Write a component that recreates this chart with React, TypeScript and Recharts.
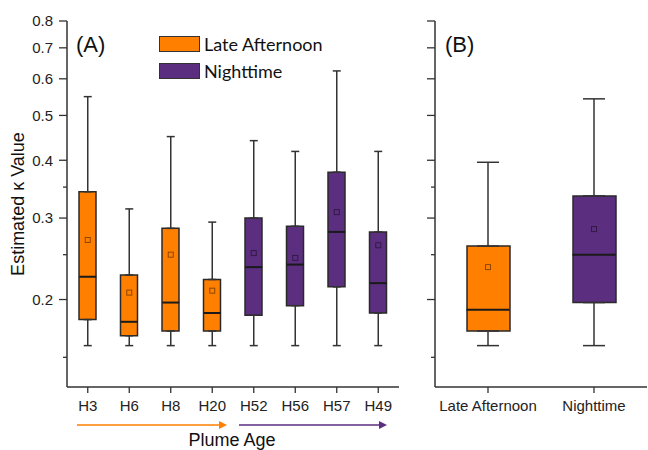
import React from 'react';
import {
  ComposedChart, Bar, Scatter, ErrorBar, XAxis, YAxis, Cell, Legend
} from 'recharts';

// plume ages, panel (A)
const plumes = ['H3', 'H6', 'H8', 'H20', 'H52', 'H56', 'H57', 'H49'];
const plumePeriod = [0, 0, 0, 0, 1, 1, 1, 1];
const plumeWhiskerLow = [0.159, 0.159, 0.159, 0.159, 0.159, 0.159, 0.159, 0.159];
const plumeQ1 = [0.181, 0.167, 0.171, 0.171, 0.185, 0.194, 0.213, 0.187];
const plumeMedian = [0.224, 0.179, 0.197, 0.187, 0.235, 0.238, 0.28, 0.217];
const plumeQ3 = [0.342, 0.226, 0.285, 0.221, 0.3, 0.288, 0.377, 0.28];
const plumeWhiskerHigh = [0.549, 0.314, 0.45, 0.294, 0.441, 0.418, 0.624, 0.418];
const plumeMean = [0.269, 0.207, 0.25, 0.209, 0.252, 0.246, 0.309, 0.262];

// time of day, panel (B)
const periods = ['Late Afternoon', 'Nighttime'];
const periodColors = ['#FF7F00', '#5B2E7F'];
const periodWhiskerLow = [0.159, 0.159];
const periodQ1 = [0.171, 0.197];
const periodMedian = [0.19, 0.25];
const periodQ3 = [0.261, 0.335];
const periodWhiskerHigh = [0.396, 0.543];
const periodMean = [0.235, 0.284];

const yTicks = [0.15, 0.2, 0.25, 0.3, 0.35, 0.4, 0.45, 0.5, 0.55, 0.6, 0.65, 0.7, 0.75, 0.8];
const yMajorTicks = [0.2, 0.3, 0.4, 0.5, 0.6, 0.7, 0.8];
const yDomain = [0.1294, 0.8];

const FONT = "'Liberation Sans', Arial, sans-serif";
const AXIS = '#333';

const buildRows = (
  names: string[], lo: number[], q1: number[], med: number[],
  q3: number[], hi: number[], mean: number[], period: number[]
) => names.map((name, i) => ({
  name,
  box: [q1[i], q3[i]],
  q1: q1[i],
  q3: q3[i],
  median: med[i],
  mean: mean[i],
  // whiskers start at the box edges so they never cross the box
  upper: [0, hi[i] - q3[i]],
  lower: [q1[i] - lo[i], 0],
  color: periodColors[period[i]],
}));

const rowsA = buildRows(plumes, plumeWhiskerLow, plumeQ1, plumeMedian, plumeQ3,
  plumeWhiskerHigh, plumeMean, plumePeriod);
const rowsB = buildRows(periods, periodWhiskerLow, periodQ1, periodMedian, periodQ3,
  periodWhiskerHigh, periodMean, [0, 1]);

// log axis tick: long for labelled values, short for the minor ones
const makeTick = (axisX: number, showLabel: boolean) => (props: any) => {
  const { y, payload } = props;
  const major = yMajorTicks.indexOf(payload.value) >= 0;
  return (
    <g>
      <line x1={axisX - (major ? 8 : 4)} x2={axisX} y1={y} y2={y} stroke={AXIS} strokeWidth={1.3} />
      {showLabel && major && (
        <text x={axisX - 14} y={y} dy="0.35em" textAnchor="end" fontSize={15}
          fontFamily={FONT} fill="#222">{payload.value}</text>
      )}
    </g>
  );
};

const nothing = () => <g />;
const medianLine = (half: number) => (p: any) => (
  <line x1={p.cx - half} x2={p.cx + half} y1={p.cy} y2={p.cy} stroke="#1a1a1a" strokeWidth={2} />
);
const meanMark = (p: any) => (
  <rect x={p.cx - 2.5} y={p.cy - 2.5} width={5} height={5} fill="none"
    stroke="rgba(0,0,0,0.45)" strokeWidth={1} />
);

const PeriodLegend = () => (
  <div style={{ fontFamily: 'Lato, sans-serif', fontSize: 18, color: '#111' }}>
    {periods.map((p, i) => (
      <div key={p} style={{ display: 'flex', alignItems: 'center', height: 27 }}>
        <span style={{
          display: 'inline-block', width: 41, height: 16, background: periodColors[i],
          border: '1px solid #333', boxSizing: 'border-box', marginRight: 4,
        }} />
        <span>{p}</span>
      </div>
    ))}
  </div>
);

type PanelProps = {
  rows: ReturnType<typeof buildRows>;
  width: number;
  yWidth: number;
  barSize: number;
  capHalf: number;
  showYLabels: boolean;
};

const BoxPanel: React.FC<PanelProps> = ({ rows, width, yWidth, barSize, capHalf, showYLabels }) => (
  <ComposedChart width={width} height={450} data={rows}
    margin={{ top: 21, right: 1, left: 0, bottom: 0 }}>
    <XAxis dataKey="name" interval={0} height={63} tickSize={6} tickMargin={7}
      tick={{ fontSize: 15, fontFamily: FONT, fill: '#222' }}
      axisLine={{ stroke: AXIS, strokeWidth: 1.5 }} tickLine={{ stroke: AXIS, strokeWidth: 1.3 }} />
    <XAxis xAxisId="frame" dataKey="name" orientation="top" height={0} tick={false} tickLine={false}
      axisLine={{ stroke: AXIS, strokeWidth: 1.5 }} />
    <YAxis scale="log" type="number" domain={yDomain} allowDataOverflow ticks={yTicks}
      width={yWidth} tick={makeTick(yWidth, showYLabels)} tickLine={false}
      axisLine={{ stroke: AXIS, strokeWidth: 1.5 }}
      label={showYLabels ? {
        value: 'Estimated κ Value', angle: -90, position: 'insideLeft', offset: 18,
        style: { textAnchor: 'middle', fontSize: 18, fontFamily: FONT, fill: '#111' },
      } : undefined} />
    <YAxis yAxisId="frame" orientation="right" scale="log" type="number" domain={yDomain}
      allowDataOverflow width={0} tick={false} tickLine={false}
      axisLine={{ stroke: AXIS, strokeWidth: 1.5 }} />
    <Scatter dataKey="q3" shape={nothing} isAnimationActive={false} legendType="none">
      <ErrorBar dataKey="upper" direction="y" width={capHalf} stroke={AXIS} strokeWidth={1.5} />
    </Scatter>
    <Scatter dataKey="q1" shape={nothing} isAnimationActive={false} legendType="none">
      <ErrorBar dataKey="lower" direction="y" width={capHalf} stroke={AXIS} strokeWidth={1.5} />
    </Scatter>
    <Bar dataKey="box" barSize={barSize} stroke="#2a2a2a" strokeWidth={1.5} isAnimationActive={false}>
      {rows.map((r) => <Cell key={r.name} fill={r.color} />)}
    </Bar>
    <Scatter dataKey="median" shape={medianLine(barSize / 2)} isAnimationActive={false} legendType="none" />
    <Scatter dataKey="mean" shape={meanMark} isAnimationActive={false} legendType="none" />
    {showYLabels && (
      <Legend layout="vertical" align="center" verticalAlign="middle" content={PeriodLegend}
        wrapperStyle={{ left: 159, top: 30, width: 'auto' }} />
    )}
  </ComposedChart>
);

export default function App() {
  return (
    <div style={{ position: 'absolute', left: 0, top: 0, width: 648, height: 450, background: '#fff' }}>
      <div style={{ position: 'absolute', left: 0, top: 0 }}>
        <BoxPanel rows={rowsA} width={400} yWidth={67} barSize={17} capHalf={4} showYLabels />
      </div>
      <div style={{ position: 'absolute', left: 420, top: 0 }}>
        <BoxPanel rows={rowsB} width={228} yWidth={15} barSize={43} capHalf={11} showYLabels={false} />
      </div>
      <svg width={648} height={450} style={{ position: 'absolute', left: 0, top: 0, pointerEvents: 'none' }}>
        <text x={76} y={52} fontSize={22} fontFamily={FONT} fill="#111">(A)</text>
        <text x={445} y={52} fontSize={22} fontFamily={FONT} fill="#111">(B)</text>
        <line x1={77} x2={221} y1={425} y2={425} stroke={periodColors[0]} strokeWidth={1.5} />
        <polygon points="219,421 227,425 219,429" fill={periodColors[0]} />
        <line x1={239} x2={381} y1={425} y2={425} stroke={periodColors[1]} strokeWidth={1.5} />
        <polygon points="379,421 387,425 379,429" fill={periodColors[1]} />
        <text x={232} y={446} textAnchor="middle" fontSize={18} fontFamily={FONT} fill="#111">Plume Age</text>
      </svg>
    </div>
  );
}
